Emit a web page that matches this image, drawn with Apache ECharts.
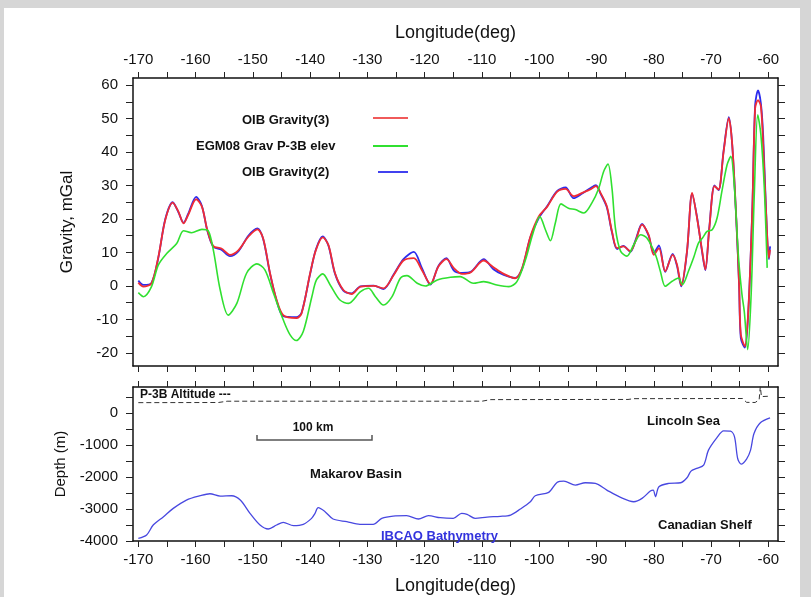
<!DOCTYPE html>
<html><head><meta charset="utf-8">
<script src="https://cdn.jsdelivr.net/npm/echarts@6/dist/echarts.min.js"></script>
<style>html,body{margin:0;padding:0;background:#d6d6d6;}#c{width:811px;height:597px;}</style>
</head><body><div id="c"></div>
<script>
// ---------------- DATA ----------------
const lonOIB3 = [-170.0,-169.1,-167.7,-166.5,-165.3,-164.0,-163.0,-162.1,-161.3,-159.9,-158.9,-157.95,-156.9,-155.5,-154.0,-152.5,-150.8,-149.2,-148.2,-147.0,-145.85,-144.7,-142.4,-141.5,-140.0,-139.0,-137.8,-136.8,-135.65,-134.2,-132.75,-131.2,-128.9,-127.2,-125.4,-123.7,-121.9,-120.5,-119.0,-117.6,-116.2,-114.9,-113.5,-112.0,-109.7,-108.0,-106.2,-104.2,-103.0,-101.55,-100.1,-98.6,-96.9,-95.4,-94.0,-92.5,-91.1,-90.1,-89.3,-88.2,-87.3,-86.4,-85.3,-84.1,-83.2,-82.05,-80.9,-80.0,-79.1,-78.0,-76.7,-75.95,-75.2,-74.2,-73.3,-72.45,-71.55,-71.0,-70.3,-69.4,-68.7,-67.8,-66.9,-66.3,-65.6,-65.1,-64.8,-64.1,-63.5,-62.8,-62.3,-61.8,-61.3,-60.9,-60.4,-59.9,-59.7];
const gravOIB3 = [1.0,-0.2,0.8,8.7,19.7,24.9,22.2,18.7,21.2,25.9,23.7,16.7,11.9,11.2,9.3,10.7,14.7,16.9,14.2,3.8,-4.2,-8.7,-9.6,-8.2,3.8,10.7,14.5,12.2,3.8,-1.2,-2.4,-0.2,0.0,-0.7,3.3,7.6,8.3,4.8,0.6,5.8,8.0,5.3,3.6,4.0,7.6,5.6,3.6,2.3,5.3,14.7,20.7,23.7,28.1,29.0,26.8,27.8,28.8,29.8,27.8,23.8,16.3,11.3,11.8,10.4,13.3,18.3,15.3,9.3,11.3,4.4,9.3,6.4,0.2,10.4,27.8,20.3,10.4,4.9,17.3,29.8,28.8,40.2,50.1,42.2,20.3,0.4,-14.5,-18.0,-7.5,22.3,53.1,55.5,53.6,42.2,22.3,8.4,10.8];

const lonOIB2 = [-170.0,-169.1,-167.7,-166.5,-165.3,-164.0,-163.0,-162.1,-161.3,-159.9,-158.9,-157.95,-156.9,-155.5,-154.0,-152.5,-150.8,-149.2,-148.2,-147.0,-145.85,-144.7,-142.4,-141.5,-140.0,-139.0,-137.8,-136.8,-135.65,-134.2,-132.75,-131.2,-128.9,-127.2,-125.4,-123.7,-121.9,-120.5,-119.0,-117.6,-116.2,-114.9,-113.5,-112.0,-109.7,-108.0,-106.2,-104.2,-103.0,-101.55,-100.1,-98.6,-96.9,-95.4,-94.0,-92.5,-91.1,-90.1,-89.3,-88.2,-87.3,-86.4,-85.3,-84.1,-83.2,-82.05,-80.9,-80.0,-79.1,-78.0,-76.7,-75.95,-75.2,-74.2,-73.3,-72.45,-71.55,-71.0,-70.3,-69.4,-68.7,-67.8,-66.9,-66.3,-65.6,-65.1,-64.8,-64.1,-63.5,-62.8,-62.3,-61.8,-61.3,-60.9,-60.4,-59.9,-59.7,-59.6];
const gravOIB2 = [1.6,0.3,0.9,8.5,19.9,25.0,22.0,18.9,21.5,26.6,23.9,16.5,11.7,10.8,8.9,10.4,15.0,17.2,14.0,3.6,-4.4,-9.0,-9.3,-8.0,3.6,10.9,14.8,12.0,3.6,-1.4,-2.2,-0.1,0.1,-0.9,3.5,8.0,10.2,5.4,0.4,6.0,8.3,4.6,3.9,4.2,8.0,5.0,3.3,2.4,5.1,14.5,20.2,23.9,28.3,29.4,26.2,27.6,29.2,30.1,27.6,23.5,16.0,11.0,12.0,10.2,13.6,18.5,15.0,9.9,12.1,4.2,9.6,6.0,-0.1,10.2,27.5,20.6,10.0,4.7,17.5,30.0,28.6,40.5,50.4,42.0,20.0,0.0,-15.6,-18.4,-7.8,22.8,54.0,58.4,54.5,45.0,22.8,8.0,11.6,11.8];

const lonEGM = [-170.0,-169.1,-167.7,-166.5,-165.05,-163.3,-162.1,-160.7,-158.9,-157.8,-156.9,-155.7,-154.3,-152.8,-151.1,-149.3,-147.9,-146.4,-144.7,-143.5,-142.4,-141.2,-139.7,-138.9,-137.8,-136.5,-134.8,-133.3,-131.2,-129.8,-128.6,-127.2,-125.7,-124.25,-123.1,-121.3,-119.9,-117.8,-115.5,-113.8,-111.5,-109.7,-107.4,-105.3,-103.9,-102.4,-101.1,-99.9,-98.9,-98.05,-97.2,-96.2,-94.9,-93.7,-92.2,-90.8,-89.6,-88.75,-88.0,-87.3,-86.7,-85.8,-84.7,-83.5,-82.3,-81.2,-79.7,-78.85,-78.0,-76.8,-75.7,-75.0,-73.95,-73.05,-72.2,-71.5,-70.7,-69.8,-68.95,-68.1,-67.2,-66.55,-65.95,-65.2,-64.6,-64.2,-63.6,-63.0,-62.45,-61.85,-61.3,-60.7,-60.2];
const gravEGM = [-2.0,-3.2,-0.2,6.3,9.7,12.7,16.5,15.9,16.9,16.5,10.7,-1.2,-8.7,-5.2,3.8,6.6,4.8,-2.2,-10.1,-14.6,-16.3,-13.6,-3.2,1.8,3.6,0.3,-4.2,-5.2,-1.7,-0.7,-3.2,-5.7,-3.2,2.3,3.1,0.8,0.0,1.8,2.6,2.8,0.8,1.3,0.3,-0.2,1.3,7.8,15.7,20.7,16.7,13.5,18.7,24.5,23.2,22.8,21.8,24.8,29.2,34.2,36.4,29.2,17.3,10.4,8.9,12.3,15.3,14.3,9.3,4.4,-0.1,1.4,2.4,0.4,4.4,8.4,12.8,14.3,16.3,16.8,20.3,28.3,36.2,38.7,30.2,8.4,-2.6,-7.6,-19.0,-2.6,27.3,51.1,45.2,29.2,5.4];

const lonBathy = [-170.0,-168.55,-167.4,-165.6,-163.9,-161.6,-159.2,-157.5,-155.7,-153.7,-152.2,-150.5,-148.75,-147.3,-145.85,-144.7,-142.9,-141.2,-139.75,-139.15,-138.6,-137.4,-136.0,-133.6,-131.3,-129.0,-127.5,-125.5,-123.15,-121.1,-119.35,-117.3,-115.0,-113.55,-112.6,-111.2,-109.1,-106.8,-105.0,-103.3,-101.55,-100.7,-98.35,-96.9,-95.7,-93.7,-91.95,-90.2,-88.2,-85.8,-83.5,-82.05,-80.6,-80.1,-79.7,-79.1,-77.4,-75.3,-74.2,-73.5,-72.5,-71.3,-70.45,-69.0,-67.8,-66.6,-65.9,-65.35,-64.75,-63.8,-63.1,-62.5,-61.35,-59.7];
const depthBathy = [-3917,-3812,-3500,-3240,-2979,-2719,-2583,-2521,-2594,-2583,-2719,-3135,-3500,-3625,-3500,-3417,-3521,-3479,-3292,-3135,-2958,-3083,-3312,-3396,-3479,-3479,-3292,-3219,-3208,-3312,-3208,-3271,-3292,-3135,-3167,-3292,-3250,-3229,-3187,-3000,-2771,-2583,-2479,-2167,-2125,-2250,-2177,-2198,-2406,-2635,-2771,-2667,-2437,-2406,-2615,-2302,-2198,-2177,-2021,-1813,-1729,-1625,-1156,-771,-552,-562,-740,-1417,-1594,-1437,-1156,-635,-292,-146];

const lonAlt = [-170,-156,-154.5,-110,-108.5,-90,-84.5,-83.5,-64.5,-63.8,-62.3,-61.6,-61.4,-61.2,-60];
const altAlt = [330,335,375,375,425,430,430,455,460,340,335,420,830,520,530];

const lonTickLabels = [-170,-160,-150,-140,-130,-120,-110,-100,-90,-80,-70,-60];
const lonTicks = [-170,-165,-160,-155,-150,-145,-140,-135,-130,-125,-120,-115,-110,-105,-100,-95,-90,-85,-80,-75,-70,-65,-60];
const gravTickLabels = [-20,-10,0,10,20,30,40,50,60];
const gravTicks = [-20,-15,-10,-5,0,5,10,15,20,25,30,35,40,45,50,55,60];
const depthTickLabels = [0,-1000,-2000,-3000,-4000];
const depthTicks = [500,0,-500,-1000,-1500,-2000,-2500,-3000,-3500,-4000];

const seriesNames = ['OIB Gravity(3)','EGM08 Grav P-3B elev','OIB Gravity(2)','IBCAO Bathymetry','P-3B Altitude'];

// ---------------- CHART ----------------
const zip = (a,b) => a.map((v,i)=>[v,b[i]]);
const FONT = '"Liberation Sans", Arial, sans-serif';
const LINE = {show:true, onZero:false, lineStyle:{color:'#111', width:1.5}};
const XMIN = -170.93, XMAX = -58.31;
const plain = v => String(v);

function xAx(grid, pos, labels, name) {
  return {
    type:'value', gridIndex:grid, position:pos, min:XMIN, max:XMAX,
    axisLine:LINE, splitLine:{show:false},
    axisTick:{show:true, inside:false, length:6, customValues:lonTicks, lineStyle:{color:'#222', width:1}},
    axisLabel: labels ? {show:true, customValues:lonTickLabels, formatter:plain, margin:11, color:'#111', fontSize:15, fontFamily:FONT} : {show:false},
    name: name || '', nameLocation:'middle', nameGap: 36,
    nameTextStyle:{color:'#111', fontSize:18, fontFamily:FONT}
  };
}
function yAx(grid, pos, min, max, ticks, labels, name, gap, nameSize) {
  return {
    type:'value', gridIndex:grid, position:pos, min:min, max:max,
    axisLine:LINE, splitLine:{show:false},
    axisTick:{show:true, inside:false, length:7, customValues:ticks, lineStyle:{color:'#222', width:1}},
    axisLabel: labels ? {show:true, customValues:labels, formatter:plain, margin:15, color:'#111', fontSize:15, fontFamily:FONT} : {show:false},
    name: name || '', nameLocation:'middle', nameGap: gap || 50, nameRotate:90,
    nameTextStyle:{color:'#111', fontSize:nameSize || 15, fontFamily:FONT}
  };
}

const chart = echarts.init(document.getElementById('c'), null, {renderer:'canvas'});
const txt = (text, x, y, size, align, color) => ({
  type:'text', z:100, silent:true,
  style:{text:text, x:x, y:y, fill:color || '#111', fontSize:size, fontWeight:'bold', fontFamily:FONT, align:align, verticalAlign:'middle'}
});

chart.setOption({
  animation:false,
  backgroundColor:'#d6d6d6',
  grid:[
    {left:133, top:78, width:645, height:288, outerBoundsMode:'none', containLabel:false, show:false},
    {left:133, top:387, width:645, height:154, outerBoundsMode:'none', containLabel:false, show:false}
  ],
  xAxis:[
    xAx(0,'top',true,'Longitude(deg)'),
    xAx(0,'bottom',false),
    xAx(1,'top',false),
    xAx(1,'bottom',true,'Longitude(deg)')
  ],
  yAxis:[
    yAx(0,'left',-23.9,62.1,gravTicks,gravTickLabels,'Gravity, mGal',57,17),
    yAx(0,'right',-23.9,62.1,gravTicks,null),
    yAx(1,'left',-4000,820,depthTicks,depthTickLabels,'Depth (m)',57,15),
    yAx(1,'right',-4000,820,depthTicks,null)
  ],
  series:[
    {name:seriesNames[2], type:'line', xAxisIndex:0, yAxisIndex:0, data:zip(lonOIB2,gravOIB2), showSymbol:false, smooth:0.3, lineStyle:{color:'#2c2cee', width:1.8}, z:3},
    {name:seriesNames[0], type:'line', xAxisIndex:0, yAxisIndex:0, data:zip(lonOIB3,gravOIB3), showSymbol:false, smooth:0.3, lineStyle:{color:'#f02c34', width:1.8}, z:4},
    {name:seriesNames[1], type:'line', xAxisIndex:0, yAxisIndex:0, data:zip(lonEGM,gravEGM), showSymbol:false, smooth:0.3, lineStyle:{color:'#30e030', width:1.6}, z:5},
    {name:seriesNames[3], type:'line', xAxisIndex:3, yAxisIndex:2, data:zip(lonBathy,depthBathy), showSymbol:false, smooth:0.3, lineStyle:{color:'#4848e0', width:1.3}, z:3},
    {name:seriesNames[4], type:'line', xAxisIndex:3, yAxisIndex:2, data:zip(lonAlt,altAlt), showSymbol:false, lineStyle:{color:'#333', width:1, type:[5,3]}, z:3}
  ],
  graphic:[
    {type:'rect', z:-100, silent:true, shape:{x:4, y:8, width:796, height:589}, style:{fill:'#ffffff'}},
    // legend
    txt(seriesNames[0], 242, 120, 13, 'left'),
    txt(seriesNames[1], 196, 146, 13, 'left'),
    txt(seriesNames[2], 242, 172, 13, 'left'),
    {type:'line', z:100, shape:{x1:373, y1:118, x2:408, y2:118}, style:{stroke:'#f05a5a', lineWidth:1.8}},
    {type:'line', z:100, shape:{x1:373, y1:146, x2:408, y2:146}, style:{stroke:'#30e030', lineWidth:1.8}},
    {type:'line', z:100, shape:{x1:378, y1:172, x2:408, y2:172}, style:{stroke:'#2c2cee', lineWidth:1.8}},
    // lower panel annotations
    txt('P-3B Altitude ---', 140, 395, 12, 'left'),
    txt('100 km', 313, 428, 12, 'center'),
    {type:'polyline', z:100, shape:{points:[[257,435],[257,440],[372,440],[372,435]]}, style:{stroke:'#555', lineWidth:1.5, fill:null}},
    txt('Makarov Basin', 356, 474, 13, 'center'),
    txt('IBCAO Bathymetry', 381, 536, 13, 'left', '#3333dd'),
    txt('Lincoln Sea', 647, 421, 13, 'left'),
    txt('Canadian Shelf', 658, 525, 13, 'left')
  ]
});
</script></body></html>
